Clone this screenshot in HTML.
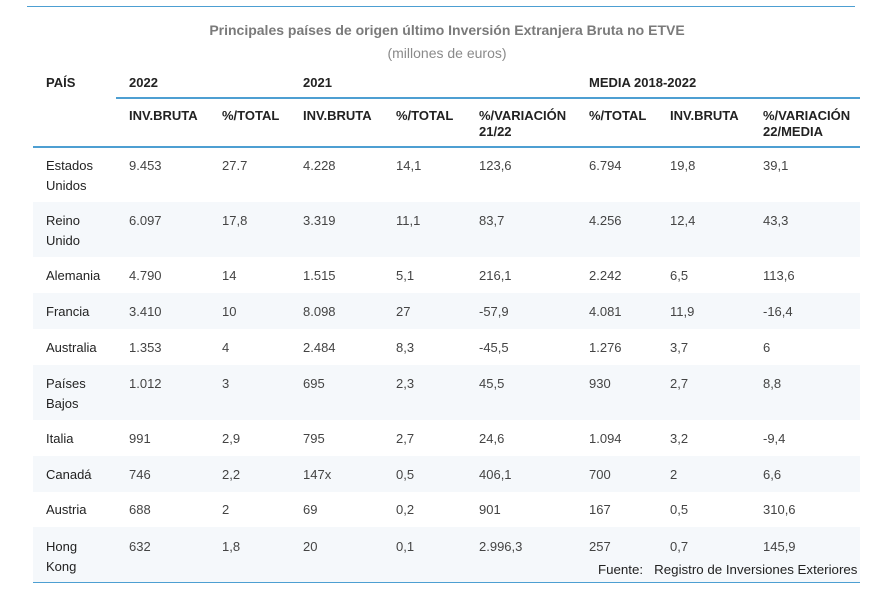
<!DOCTYPE html><html><head><meta charset="utf-8"><style>
body{margin:0;width:894px;height:595px;background:#fff;font-family:"Liberation Sans",sans-serif;font-size:13px;color:#333;position:relative;overflow:hidden}
.a{position:absolute;white-space:nowrap}
.l{position:absolute;height:2px;background:#4d9fd2}
.bg{position:absolute;left:33px;width:827px;background:#f5f8fb}
.h{font-weight:bold;color:#222}
</style></head><body>
<div class="l" style="left:27px;top:6px;width:828px;height:1px"></div>
<div class="a" style="left:0;width:894px;text-align:center;top:22px;font-weight:bold;color:#7a7a7a;font-size:14px">Principales países de origen último Inversión Extranjera Bruta no ETVE</div>
<div class="a" style="left:0;width:894px;text-align:center;top:45px;color:#8a8a8a;font-size:14px">(millones de euros)</div>
<div class="a h" style="left:46px;top:75px">PAÍS</div>
<div class="a h" style="left:129px;top:75px">2022</div>
<div class="a h" style="left:303px;top:75px">2021</div>
<div class="a h" style="left:589px;top:75px">MEDIA 2018-2022</div>
<div class="l" style="left:116px;top:97px;width:744px"></div>
<div class="a h" style="left:129px;top:108px">INV.BRUTA</div>
<div class="a h" style="left:222px;top:108px">%/TOTAL</div>
<div class="a h" style="left:303px;top:108px">INV.BRUTA</div>
<div class="a h" style="left:396px;top:108px">%/TOTAL</div>
<div class="a h" style="left:479px;top:108px;line-height:16px">%/VARIACIÓN<br>21/22</div>
<div class="a h" style="left:589px;top:108px">%/TOTAL</div>
<div class="a h" style="left:670px;top:108px">INV.BRUTA</div>
<div class="a h" style="left:763px;top:108px;line-height:16px">%/VARIACIÓN<br>22/MEDIA</div>
<div class="l" style="left:33px;top:146px;width:827px"></div>
<div class="bg" style="top:202px;height:55px"></div>
<div class="bg" style="top:293px;height:36px"></div>
<div class="bg" style="top:365px;height:55px"></div>
<div class="bg" style="top:456px;height:36px"></div>
<div class="bg" style="top:527px;height:55px"></div>
<div class="l" style="left:33px;top:582px;width:827px;height:1px"></div>
<div id="rows"></div>
<script>
var d=[[156,"Estados<br>Unidos","9.453","27.7","4.228","14,1","123,6","6.794","19,8","39,1"],
[211,"Reino<br>Unido","6.097","17,8","3.319","11,1","83,7","4.256","12,4","43,3"],
[266,"Alemania","4.790","14","1.515","5,1","216,1","2.242","6,5","113,6"],
[302,"Francia","3.410","10","8.098","27","-57,9","4.081","11,9","-16,4"],
[338,"Australia","1.353","4","2.484","8,3","-45,5","1.276","3,7","6"],
[374,"Países<br>Bajos","1.012","3","695","2,3","45,5","930","2,7","8,8"],
[429,"Italia","991","2,9","795","2,7","24,6","1.094","3,2","-9,4"],
[465,"Canadá","746","2,2","147x","0,5","406,1","700","2","6,6"],
[500,"Austria","688","2","69","0,2","901","167","0,5","310,6"],
[537,"Hong<br>Kong","632","1,8","20","0,1","2.996,3","257","0,7","145,9"]];
var xs=[46,129,222,303,396,479,589,670,763],h="";
d.forEach(function(r){for(var i=0;i<9;i++)h+='<div class="a" style="left:'+xs[i]+'px;top:'+r[0]+'px;line-height:20px;'+(i==0?'color:#222':'color:#444')+'">'+r[i+1]+'</div>';});
document.getElementById("rows").innerHTML=h;
</script>
<div class="a" style="left:598px;top:562px;color:#222;font-size:13.3px">Fuente:&nbsp;&nbsp;&nbsp;Registro de Inversiones Exteriores</div>
</body></html>
